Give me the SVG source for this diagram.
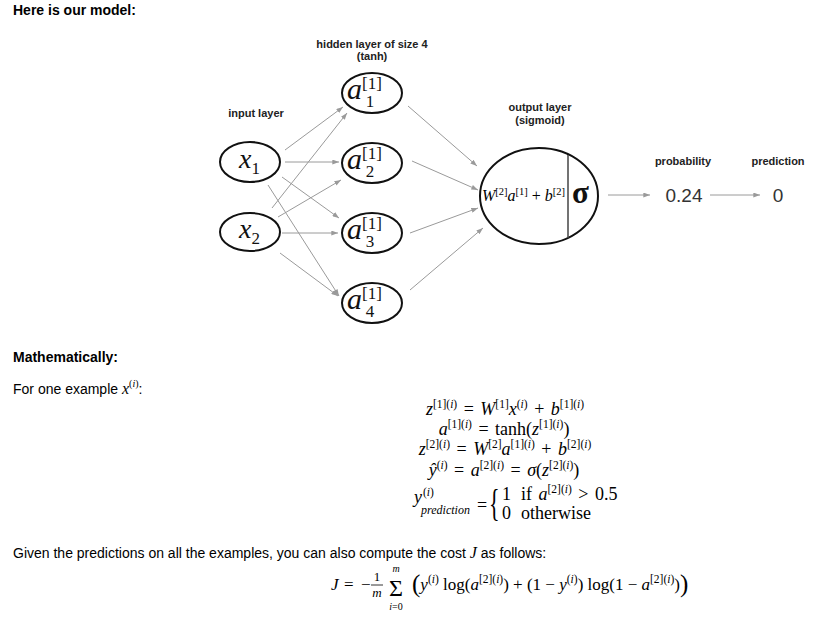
<svg xmlns="http://www.w3.org/2000/svg" width="831" height="619" viewBox="0 0 831 619">
<style>
.bg{fill:#fff}
.h{font-family:"Liberation Sans",Arial,sans-serif;font-weight:bold;font-size:14px;fill:#000}
.body{font-family:"Liberation Sans",Arial,sans-serif;font-size:14px;fill:#000}
.lbl{font-family:"Liberation Sans",Arial,sans-serif;font-weight:bold;font-size:11px;fill:#222;text-anchor:middle}
.m{font-family:"Liberation Serif","Times New Roman",serif;font-size:17px;fill:#000;white-space:pre}
.eq{font-size:18px;word-spacing:2px}
.i{font-style:italic}
.s{font-size:11.5px;font-style:normal}
.node{fill:#fff;stroke:#111;stroke-width:2}
.edge{stroke:#9a9a9a;stroke-width:1;fill:none;marker-end:url(#ah)}
.nv{font-family:"Liberation Serif","Times New Roman",serif;font-style:italic;font-size:30px;fill:#111}
.ns{font-family:"Liberation Serif","Times New Roman",serif;font-style:normal;font-size:17px}
.big{font-family:"Liberation Sans",Arial,sans-serif;font-size:19px;fill:#333;text-anchor:middle}
</style>
<defs>
<marker id="ah" viewBox="0 0 8 6" refX="8" refY="3" markerWidth="7" markerHeight="5" markerUnits="userSpaceOnUse" orient="auto"><path d="M0,0 L8,3 L0,6 z" fill="#9a9a9a"/></marker>
</defs>
<rect class="bg" x="0" y="0" width="831" height="619"/>

<text class="h" x="13" y="15">Here is our model:</text>

<g id="labels">
<text class="lbl" x="372" y="48">hidden layer of size 4</text>
<text class="lbl" x="372" y="60">(tanh)</text>
<text class="lbl" x="256" y="117">input layer</text>
<text class="lbl" x="540" y="111">output layer</text>
<text class="lbl" x="540" y="124">(sigmoid)</text>
<text class="lbl" x="683" y="165">probability</text>
<text class="lbl" x="778" y="165">prediction</text>
</g>

<g id="connectors">
<line class="edge" x1="285" y1="150" x2="343" y2="107"/>
<line class="edge" x1="285" y1="162" x2="339" y2="162"/>
<line class="edge" x1="282" y1="177" x2="339" y2="218"/>
<line class="edge" x1="268" y1="185" x2="339" y2="296"/>
<line class="edge" x1="272" y1="208" x2="347" y2="113"/>
<line class="edge" x1="278" y1="217" x2="341" y2="180"/>
<line class="edge" x1="282" y1="233" x2="338" y2="233"/>
<line class="edge" x1="280" y1="253" x2="338" y2="296"/>
<line class="edge" x1="408" y1="106" x2="477" y2="166"/>
<line class="edge" x1="412" y1="161" x2="478" y2="190"/>
<line class="edge" x1="410" y1="233" x2="478" y2="208"/>
<line class="edge" x1="410" y1="290" x2="483" y2="228"/>
<line class="edge" x1="608" y1="195" x2="650" y2="195"/>
<line class="edge" x1="710" y1="195" x2="760" y2="195"/>
</g>

<g id="x1">
<ellipse class="node" cx="250" cy="162" rx="30" ry="20"/>
<text class="nv" x="239" y="168" style="font-size:28px">x<tspan class="ns" dy="6">1</tspan></text>
</g>
<g id="x2">
<ellipse class="node" cx="250" cy="232" rx="30" ry="19"/>
<text class="nv" x="239" y="238" style="font-size:28px">x<tspan class="ns" dy="6">2</tspan></text>
</g>
<g id="a1">
<ellipse class="node" cx="372" cy="93" rx="30" ry="20"/>
<text class="nv" x="347" y="99">a<tspan class="ns" dy="-10">[1]</tspan><tspan class="ns" dx="-16" dy="18">1</tspan></text>
</g>
<g id="a2">
<ellipse class="node" cx="372" cy="163" rx="30" ry="20"/>
<text class="nv" x="347" y="169">a<tspan class="ns" dy="-10">[1]</tspan><tspan class="ns" dx="-16" dy="18">2</tspan></text>
</g>
<g id="a3">
<ellipse class="node" cx="372" cy="233" rx="30" ry="20"/>
<text class="nv" x="347" y="239">a<tspan class="ns" dy="-10">[1]</tspan><tspan class="ns" dx="-16" dy="18">3</tspan></text>
</g>
<g id="a4">
<ellipse class="node" cx="372" cy="303" rx="30" ry="20"/>
<text class="nv" x="347" y="309">a<tspan class="ns" dy="-10">[1]</tspan><tspan class="ns" dx="-16" dy="18">4</tspan></text>
</g>
<g id="output">
<ellipse class="node" cx="539" cy="196" rx="59" ry="48"/>
<line x1="568" y1="155" x2="568" y2="238" stroke="#444" stroke-width="1.5"/>
<text class="m" x="482" y="201" style="font-size:16px"><tspan class="i">W</tspan><tspan class="s" style="font-size:10.5px" dy="-6">[2]</tspan><tspan class="i" dy="6">a</tspan><tspan class="s" style="font-size:10.5px" dy="-6">[1]</tspan><tspan dy="6"> + </tspan><tspan class="i">b</tspan><tspan class="s" style="font-size:10.5px" dy="-6">[2]</tspan></text>
<text x="572" y="203" style="font-family:'Liberation Serif',serif;font-weight:bold;font-size:31px;fill:#111">σ</text>
</g>
<g id="probability">
<text class="big" x="684" y="202">0.24</text>
</g>
<g id="prediction">
<text class="big" x="778" y="202">0</text>
</g>

<text class="h" x="13" y="362">Mathematically:</text>
<text class="body" x="13" y="394">For one example <tspan style="font-family:'Liberation Serif',serif;font-style:italic;font-size:16px">x</tspan><tspan style="font-family:'Liberation Serif',serif;font-size:10px" dy="-7">(<tspan font-style="italic">i</tspan>)</tspan><tspan dy="7">:</tspan></text>

<g id="equations">
<text class="m eq" x="505" y="415" text-anchor="middle"><tspan class="i">z</tspan><tspan class="s" dy="-7">[1](<tspan class="i">i</tspan>)</tspan><tspan dy="7"> = </tspan><tspan class="i">W</tspan><tspan class="s" dy="-7">[1]</tspan><tspan class="i" dy="7">x</tspan><tspan class="s" dy="-7">(<tspan class="i">i</tspan>)</tspan><tspan dy="7"> + </tspan><tspan class="i">b</tspan><tspan class="s" dy="-7">[1](<tspan class="i">i</tspan>)</tspan></text>
<text class="m eq" x="504" y="435" text-anchor="middle"><tspan class="i">a</tspan><tspan class="s" dy="-7">[1](<tspan class="i">i</tspan>)</tspan><tspan dy="7"> = tanh(</tspan><tspan class="i">z</tspan><tspan class="s" dy="-7">[1](<tspan class="i">i</tspan>)</tspan><tspan dy="7">)</tspan></text>
<text class="m eq" x="505" y="455" text-anchor="middle"><tspan class="i">z</tspan><tspan class="s" dy="-7">[2](<tspan class="i">i</tspan>)</tspan><tspan dy="7"> = </tspan><tspan class="i">W</tspan><tspan class="s" dy="-7">[2]</tspan><tspan class="i" dy="7">a</tspan><tspan class="s" dy="-7">[1](<tspan class="i">i</tspan>)</tspan><tspan dy="7"> + </tspan><tspan class="i">b</tspan><tspan class="s" dy="-7">[2](<tspan class="i">i</tspan>)</tspan></text>
<text class="m eq" x="504" y="476" text-anchor="middle"><tspan class="i">ŷ</tspan><tspan class="s" dy="-7">(<tspan class="i">i</tspan>)</tspan><tspan dy="7"> = </tspan><tspan class="i">a</tspan><tspan class="s" dy="-7">[2](<tspan class="i">i</tspan>)</tspan><tspan dy="7"> = </tspan><tspan class="i">σ</tspan><tspan>(</tspan><tspan class="i">z</tspan><tspan class="s" dy="-7">[2](<tspan class="i">i</tspan>)</tspan><tspan dy="7">)</tspan></text>
<text class="m eq i" x="414" y="503">y</text>
<text class="m" x="423" y="496" style="font-size:11.5px">(<tspan class="i">i</tspan>)</text>
<text class="m i" x="421" y="514" style="font-size:12px">prediction</text>
<text class="m eq" x="477" y="511">=</text>
<text class="m" transform="translate(489,516) scale(1,1.7)" style="font-size:22px">{</text>
<text class="m eq" x="502" y="500">1</text>
<text class="m eq" x="521" y="500">if <tspan class="i">a</tspan><tspan class="s" dy="-7">[2](<tspan class="i">i</tspan>)</tspan><tspan dy="7"> &gt; 0.5</tspan></text>
<text class="m eq" x="502" y="519">0</text>
<text class="m eq" x="521" y="519">otherwise</text>
</g>

<text class="body" x="13" y="558">Given the predictions on all the examples, you can also compute the cost <tspan style="font-family:'Liberation Serif',serif;font-style:italic;font-size:16px">J</tspan> as follows:</text>

<g id="cost">
<text class="m i" x="331" y="590">J</text>
<text class="m" x="344" y="590">=</text>
<text class="m" x="361" y="590">−</text>
<text class="m" x="377" y="581" text-anchor="middle" style="font-size:13px">1</text>
<line x1="371" y1="585" x2="383" y2="585" stroke="#000" stroke-width="0.8"/>
<text class="m i" x="377" y="597" text-anchor="middle" style="font-size:13px">m</text>
<text class="m i" x="396" y="572" text-anchor="middle" style="font-size:10px">m</text>
<text class="m" x="396" y="596" text-anchor="middle" style="font-size:24px">Σ</text>
<text class="m" x="396" y="610" text-anchor="middle" style="font-size:10px"><tspan class="i">i</tspan>=0</text>
<text class="m" x="412" y="592"><tspan style="font-size:25px">(</tspan><tspan class="i" dy="-2">y</tspan><tspan class="s" dy="-7">(<tspan class="i">i</tspan>)</tspan><tspan dy="7"> log(</tspan><tspan class="i">a</tspan><tspan class="s" dy="-7">[2](<tspan class="i">i</tspan>)</tspan><tspan dy="7">) + (1 − </tspan><tspan class="i">y</tspan><tspan class="s" dy="-7">(<tspan class="i">i</tspan>)</tspan><tspan dy="7">) log(1 − </tspan><tspan class="i">a</tspan><tspan class="s" dy="-7">[2](<tspan class="i">i</tspan>)</tspan><tspan dy="7">)</tspan><tspan style="font-size:25px" dy="2">)</tspan></text>
</g>
</svg>
